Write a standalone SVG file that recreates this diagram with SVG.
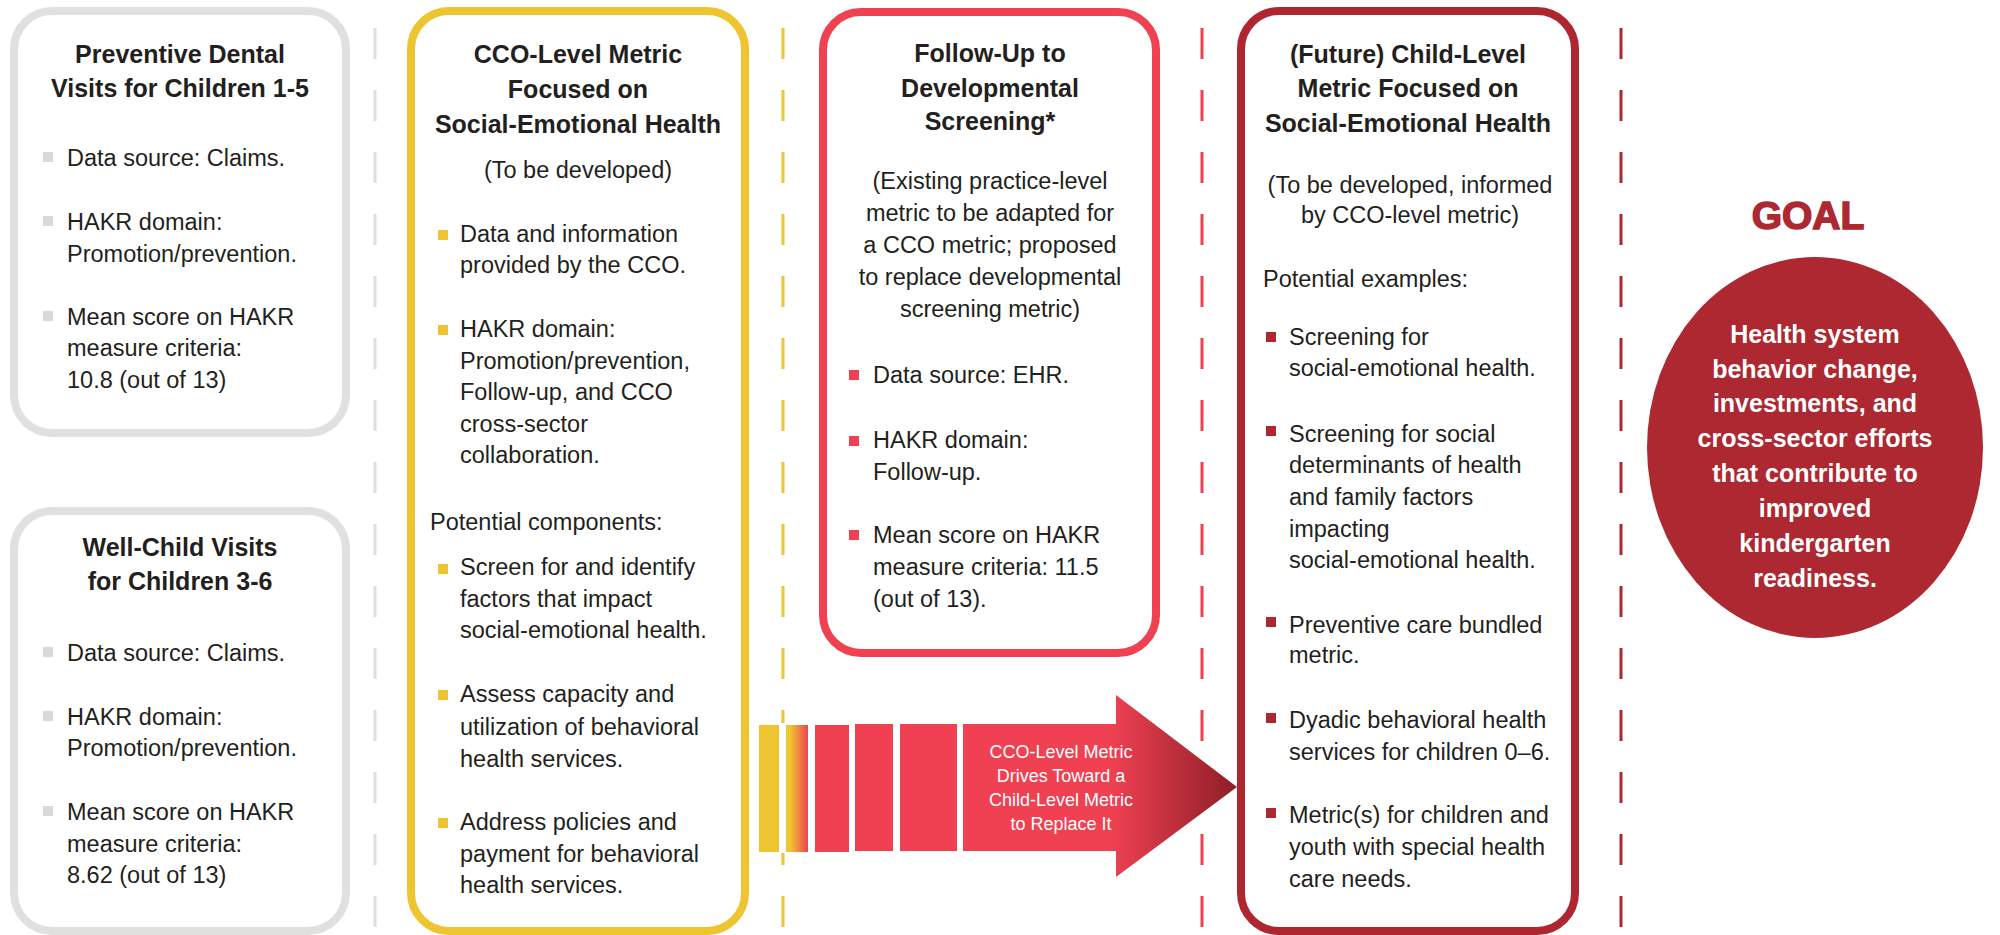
<svg xmlns="http://www.w3.org/2000/svg" width="2000" height="935" viewBox="0 0 2000 935">
<defs>
<style>
.t{font-family:"Liberation Sans",Arial,sans-serif;font-size:23.5px;fill:#231F20}
.c{text-anchor:middle}
.h{font-family:"Liberation Sans",Arial,sans-serif;font-size:25px;font-weight:bold;fill:#231F20;text-anchor:middle}
.box{fill:#fff;stroke-width:8}
.sep{fill:none;stroke-width:3;stroke-dasharray:31 31}
.aw{font-family:"Liberation Sans",Arial,sans-serif;font-size:18px;fill:#fff;text-anchor:middle}
.gt{font-family:"Liberation Sans",Arial,sans-serif;font-size:25px;font-weight:bold;fill:#fff;text-anchor:middle}
</style>
<linearGradient id="yr" x1="0" y1="0" x2="1" y2="0">
<stop offset="0.2" stop-color="#EFC431"/>
<stop offset="1" stop-color="#EF4152"/>
</linearGradient>
<linearGradient id="ah" gradientUnits="userSpaceOnUse" x1="1110" y1="0" x2="1237" y2="0">
<stop offset="0" stop-color="#EF4152"/>
<stop offset="1" stop-color="#8E1E27"/>
</linearGradient>
</defs>
<rect width="2000" height="935" fill="#fff"/>

<g id="separators">
<line class="sep" x1="375" y1="28" x2="375" y2="935" stroke="#DEDEDC"/>
<line class="sep" x1="783" y1="28" x2="783" y2="935" stroke="#EFC431"/>
<line class="sep" x1="1202" y1="28" x2="1202" y2="935" stroke="#EF4152"/>
<line class="sep" x1="1621" y1="28" x2="1621" y2="935" stroke="#AE2630"/>
</g>

<g id="node-dental">
<rect class="box" x="14" y="11" width="332" height="422" rx="38" stroke="#E0E0DE"/>
<text class="h" x="180"><tspan x="180" y="63">Preventive Dental</tspan><tspan x="180" y="97">Visits for Children 1-5</tspan></text>
<g fill="#DADADA"><rect x="43" y="152" width="10" height="10"/><rect x="43" y="216" width="10" height="10"/><rect x="43" y="311" width="10" height="10"/></g>
<text class="t"><tspan x="67" y="166">Data source: Claims.</tspan><tspan x="67" y="230">HAKR domain:</tspan><tspan x="67" y="262">Promotion/prevention.</tspan><tspan x="67" y="325">Mean score on HAKR</tspan><tspan x="67" y="356">measure criteria:</tspan><tspan x="67" y="388">10.8 (out of 13)</tspan></text>
</g>

<g id="node-wellchild">
<rect class="box" x="14" y="511" width="332" height="420" rx="38" stroke="#E0E0DE"/>
<text class="h"><tspan x="180" y="556">Well-Child Visits</tspan><tspan x="180" y="590">for Children 3-6</tspan></text>
<g fill="#DADADA"><rect x="43" y="647" width="10" height="10"/><rect x="43" y="711" width="10" height="10"/><rect x="43" y="806" width="10" height="10"/></g>
<text class="t"><tspan x="67" y="661">Data source: Claims.</tspan><tspan x="67" y="725">HAKR domain:</tspan><tspan x="67" y="756">Promotion/prevention.</tspan><tspan x="67" y="820">Mean score on HAKR</tspan><tspan x="67" y="852">measure criteria:</tspan><tspan x="67" y="883">8.62 (out of 13)</tspan></text>
</g>

<g id="node-cco">
<rect class="box" x="411" y="11" width="334" height="920" rx="38" stroke="#EFC431"/>
<text class="h"><tspan x="578" y="63">CCO-Level Metric</tspan><tspan x="578" y="98">Focused on</tspan><tspan x="578" y="133">Social-Emotional Health</tspan></text>
<text class="t c" x="578" y="178">(To be developed)</text>
<g fill="#EFC431"><rect x="438" y="230" width="10" height="10"/><rect x="438" y="325" width="10" height="10"/><rect x="438" y="564" width="10" height="10"/><rect x="438" y="690" width="10" height="10"/><rect x="438" y="818" width="10" height="10"/></g>
<text class="t"><tspan x="460" y="242">Data and information</tspan><tspan x="460" y="273">provided by the CCO.</tspan><tspan x="460" y="337">HAKR domain:</tspan><tspan x="460" y="369">Promotion/prevention,</tspan><tspan x="460" y="400">Follow-up, and CCO</tspan><tspan x="460" y="432">cross-sector</tspan><tspan x="460" y="463">collaboration.</tspan><tspan x="430" y="530">Potential components:</tspan><tspan x="460" y="575">Screen for and identify</tspan><tspan x="460" y="607">factors that impact</tspan><tspan x="460" y="638">social-emotional health.</tspan><tspan x="460" y="702">Assess capacity and</tspan><tspan x="460" y="735">utilization of behavioral</tspan><tspan x="460" y="767">health services.</tspan><tspan x="460" y="830">Address policies and</tspan><tspan x="460" y="862">payment for behavioral</tspan><tspan x="460" y="893">health services.</tspan></text>
</g>

<g id="node-followup">
<rect class="box" x="823" y="12" width="333" height="641" rx="38" stroke="#EF4152"/>
<text class="h"><tspan x="990" y="62">Follow-Up to</tspan><tspan x="990" y="97">Developmental</tspan><tspan x="990" y="130">Screening*</tspan></text>
<text class="t c"><tspan x="990" y="189">(Existing practice-level</tspan><tspan x="990" y="221">metric to be adapted for</tspan><tspan x="990" y="253">a CCO metric; proposed</tspan><tspan x="990" y="285">to replace developmental</tspan><tspan x="990" y="317">screening metric)</tspan></text>
<g fill="#EF4152"><rect x="849" y="370" width="10" height="10"/><rect x="849" y="436" width="10" height="10"/><rect x="849" y="530" width="10" height="10"/></g>
<text class="t"><tspan x="873" y="383">Data source: EHR.</tspan><tspan x="873" y="448">HAKR domain:</tspan><tspan x="873" y="480">Follow-up.</tspan><tspan x="873" y="543">Mean score on HAKR</tspan><tspan x="873" y="575">measure criteria: 11.5</tspan><tspan x="873" y="607">(out of 13).</tspan></text>
</g>

<g id="node-childlevel">
<rect class="box" x="1241" y="11" width="334" height="920" rx="38" stroke="#AE2630"/>
<text class="h"><tspan x="1408" y="63">(Future) Child-Level</tspan><tspan x="1408" y="97">Metric Focused on</tspan><tspan x="1408" y="132">Social-Emotional Health</tspan></text>
<text class="t c"><tspan x="1410" y="193">(To be developed, informed</tspan><tspan x="1410" y="223">by CCO-level metric)</tspan></text>
<g fill="#AE2630"><rect x="1266" y="332" width="10" height="10"/><rect x="1266" y="426" width="10" height="10"/><rect x="1266" y="617" width="10" height="10"/><rect x="1266" y="713" width="10" height="10"/><rect x="1266" y="808" width="10" height="10"/></g>
<text class="t"><tspan x="1263" y="287">Potential examples:</tspan><tspan x="1289" y="345">Screening for</tspan><tspan x="1289" y="376">social-emotional health.</tspan><tspan x="1289" y="442">Screening for social</tspan><tspan x="1289" y="473">determinants of health</tspan><tspan x="1289" y="505">and family factors</tspan><tspan x="1289" y="537">impacting</tspan><tspan x="1289" y="568">social-emotional health.</tspan><tspan x="1289" y="633">Preventive care bundled</tspan><tspan x="1289" y="663">metric.</tspan><tspan x="1289" y="728">Dyadic behavioral health</tspan><tspan x="1289" y="760">services for children 0–6.</tspan><tspan x="1289" y="823">Metric(s) for children and</tspan><tspan x="1289" y="855">youth with special health</tspan><tspan x="1289" y="887">care needs.</tspan></text>
</g>

<g id="node-goal">
<text x="1808" y="229" font-family="'Liberation Sans',Arial,sans-serif" font-size="39" font-weight="bold" fill="#AD2830" stroke="#AD2830" stroke-width="1.5" text-anchor="middle">GOAL</text>
<ellipse cx="1815" cy="447.5" rx="168" ry="190.5" fill="#AD2830"/>
<text class="gt"><tspan x="1815" y="343">Health system</tspan><tspan x="1815" y="378">behavior change,</tspan><tspan x="1815" y="412">investments, and</tspan><tspan x="1815" y="447">cross-sector efforts</tspan><tspan x="1815" y="482">that contribute to</tspan><tspan x="1815" y="517">improved</tspan><tspan x="1815" y="552">kindergarten</tspan><tspan x="1815" y="587">readiness.</tspan></text>
</g>

<g id="connectors">
<rect x="755" y="723" width="205" height="130" fill="#fff"/>
<rect x="759" y="725" width="20" height="127" fill="#EFC431"/>
<rect x="786" y="725" width="22" height="127" fill="url(#yr)"/>
<rect x="815" y="725" width="34" height="127" fill="#EF4152"/>
<rect x="855" y="724" width="38" height="127" fill="#EF4152"/>
<rect x="900" y="724" width="57" height="127" fill="#EF4152"/>
<path d="M963 724 H1116 V695 L1237 787 L1116 877 V851 H963 Z" fill="url(#ah)"/>
<text class="aw"><tspan x="1061" y="758">CCO-Level Metric</tspan><tspan x="1061" y="782">Drives Toward a</tspan><tspan x="1061" y="806">Child-Level Metric</tspan><tspan x="1061" y="830">to Replace It</tspan></text>
</g>
</svg>
